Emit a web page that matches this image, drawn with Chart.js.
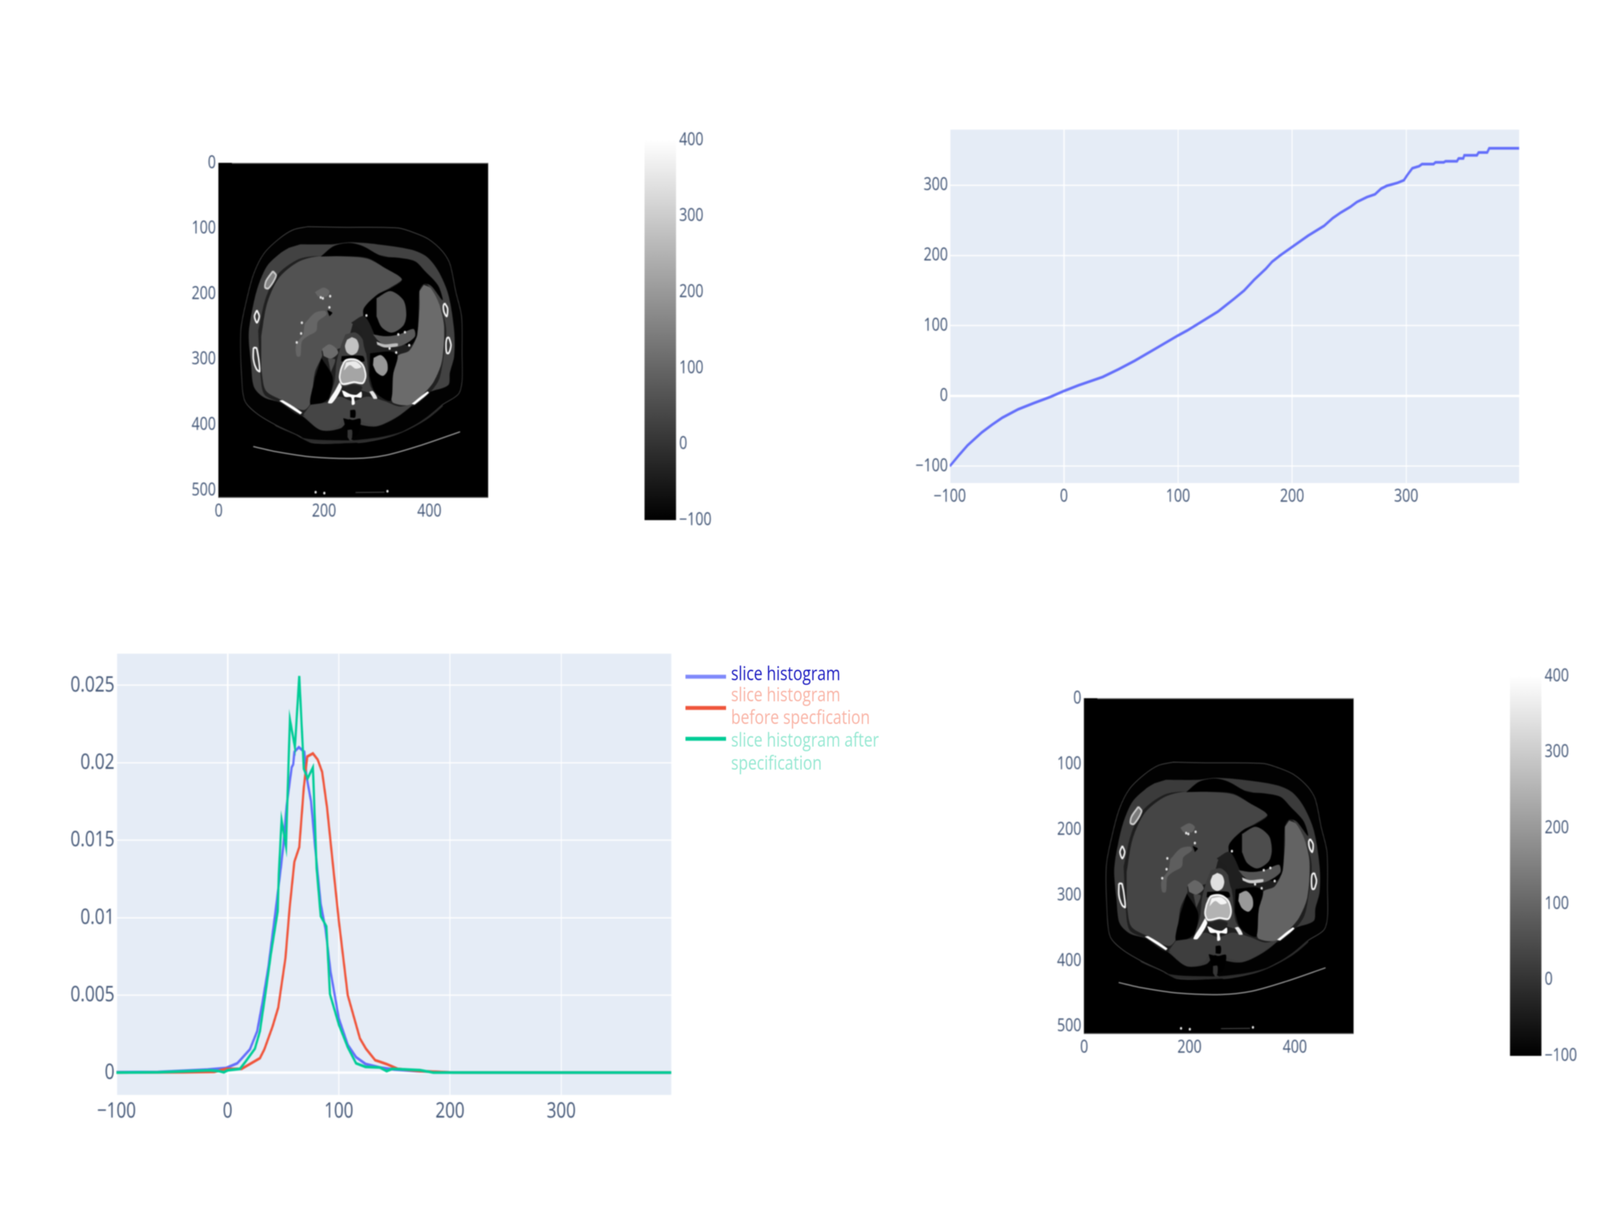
<!DOCTYPE html>
<html>
<head>
<meta charset="utf-8">
<title>Slice histogram specification</title>
<script src="https://cdn.jsdelivr.net/npm/chart.js@4"></script>
<style>
  html, body { margin: 0; background: #fff; overflow: hidden; }
  #page { position: absolute; left: 0; top: 0; width: 5084px; height: 3132px; overflow: hidden; transform-origin: 0 0; }
  canvas { position: absolute; filter: blur(1.7px); }
  .lg-line { position: absolute; height: 10px; width: 129px; left: 2178px; filter: blur(1.5px); }
  .lg-text { position: absolute; left: 2323px; font: 49.5px "Open Sans", sans-serif; line-height: 58px; white-space: nowrap; filter: blur(1px); }
</style>
</head>
<body>
<div id="page"></div>
<script>
// ---- tick labels ----------------------------------------------------------
const imageXTicks = [0, 200, 400];
const imageYTicks = [0, 100, 200, 300, 400, 500];
const barTicks = [-100, 0, 100, 200, 300, 400];
const lutXTicks = [-100, 0, 100, 200, 300];
const lutYTicks = [-100, 0, 100, 200, 300];
const histXTicks = [-100, 0, 100, 200, 300];
const histYTicks = [0, 0.005, 0.01, 0.015, 0.02, 0.025];

// ---- mapping curve (top right) ---------------------------------------------
const lutX = [-100, -91.6, -84.5, -72, -63, -54, -40, -26, -12, 0, 12.7, 34, 48, 62, 80, 100, 108, 122, 135, 142, 149, 158, 166.6, 177, 182.5, 189.6, 200, 214, 228, 235.6, 242.7, 251, 256.8, 265.6, 272.7, 278, 283, 292, 298, 300.8, 303.3, 305.4, 311.4, 313.9, 324, 325.7, 333, 334.5, 344.5, 346, 350, 351, 362, 363.5, 371, 372.8, 399];
const lutY = [-100, -83.6, -70.5, -52, -41, -31, -19, -10, -1.5, 7, 15, 27, 38, 50, 67, 86, 93, 107, 120, 129, 138, 150, 165, 181, 191, 200, 212, 228, 242, 253, 261, 269, 276, 283, 287, 295, 299, 303, 307, 314, 319.5, 324, 327, 330, 330, 332.5, 332.5, 334, 334, 338, 338, 342.5, 342.5, 346.5, 346.5, 352.5, 352.5];

// ---- histograms (bottom left) ----------------------------------------------
const sliceX = [-100, -62.6, -18, -1.5, 8.6, 12.5, 20, 26.5, 31.5, 36.6, 43, 48, 50, 53, 57.6, 59, 60, 64, 69, 71, 75, 78.6, 83.7, 88, 92.6, 100, 108, 115.5, 124, 137, 150, 170, 200, 300, 399];
const sliceY = [0.00003, 0.00004, 0.0002, 0.0003, 0.0006, 0.0009, 0.0015, 0.00266, 0.0046, 0.0068, 0.0104, 0.0133, 0.0146, 0.0172, 0.0197, 0.0199, 0.0207, 0.021, 0.0207, 0.0191, 0.0175, 0.0146, 0.0109, 0.00926, 0.0065, 0.0035, 0.0018, 0.001, 0.00056, 0.00033, 0.0002, 0.0001, 0.00001, 0, 0];
const beforeX = [-100, -40, -12, -1.5, 12.5, 29, 33, 40.5, 45.5, 52, 55.7, 60, 64.4, 68.5, 71.6, 76.7, 81, 85, 89.4, 95, 100, 108, 119, 124.4, 132.7, 137, 143, 153, 173, 203, 300, 399];
const beforeY = [0, 0.00002, 0.00005, 0.00024, 0.00024, 0.00093, 0.0015, 0.003, 0.0042, 0.0074, 0.0106, 0.0136, 0.01455, 0.0184, 0.0204, 0.0206, 0.0202, 0.0194, 0.0171, 0.0132, 0.0098, 0.005, 0.0022, 0.00154, 0.0008, 0.0007, 0.00055, 0.00024, 0.0001, 0, 0, 0];
const afterX = [-100, -62.6, -16, -8, -3.4, 0, 11, 16, 24.5, 29, 34, 39, 45, 46, 48.5, 52.5, 54, 56, 60.5, 64.4, 68.5, 72, 76.7, 80, 83.7, 88.8, 92, 100, 108, 115.5, 124, 137, 143, 148, 173, 185, 300, 399];
const afterY = [0, 0.00002, 0.00015, 0.0001, 0.00002, 0.00015, 0.00024, 0.0007, 0.00154, 0.00266, 0.0051, 0.0077, 0.0104, 0.0128, 0.0163, 0.0146, 0.0182, 0.0228, 0.021, 0.0256, 0.0196, 0.019, 0.0197, 0.0132, 0.0101, 0.00944, 0.00507, 0.0031, 0.00164, 0.0006, 0.00037, 0.00033, 0.0001, 0.00024, 0.00016, 0, 0, 0];

// ---- CT slice: outlines in image coordinates, values in HU ------------------
const body = [[169,97],[230,98],[340,99],[370,106],[398,116],[425,135],[439,154],[450,196],[461,234],[462,292],[462,333],[455,353],[425,369],[392,391],[348,411],[315,420],[265,427],[251,423],[243,427],[177,427],[150,416],[108,400],[73,383],[50,364],[44,333],[42,256],[53,209],[67,168],[86,138],[114,116],[141,102]];
const skinBand = [[105.5,399.5],[160.6,420],[243.3,423.7],[265.3,422.9],[315,417.4],[356.2,407.7],[392,389.8],[425,369],[425,372],[393.4,392.6],[348,411.9],[315,420],[265.3,427],[177,427],[149.6,417.4],[108.3,402.2]];
const bodyWall = [[155,124],[216,124],[249,121],[301,124],[364.5,132],[395,143],[417,165],[436,201],[447,256],[447,295],[439,320],[436,339],[398,351],[342.5,386],[301,402],[268,399.5],[249,391],[232,405],[194,408],[158,386],[117,366],[86,358],[67,342],[61.4,306],[57,262],[64,223],[75,187.5],[92,157],[116.5,138],[133,129.5]];
const cavityBand = [[75,256],[89,207],[111,171],[150,147.4],[185.4,142],[315,142],[392,182],[422.3,223],[432,256],[425,306],[417,333],[395,355.4],[364.5,372],[232,372],[158,386],[117,366],[86,352.6],[78,314]];
const liver = [[80.7,264.5],[91.7,215],[113.8,176],[149.6,151.5],[185.4,142.7],[232.3,142.4],[282,146],[315,159.8],[348,176.3],[326,190],[301,201],[276.3,220.4],[273.6,234],[257,242.4],[248.8,261.7],[237.8,278.2],[226.7,283.8],[196.4,286.5],[196.4,294.8],[182.7,319.6],[174.4,366.4],[160.6,377.4],[116.5,360.9],[89,347],[80.7,314]];
const spleen = [[389.3,186],[403,191.5],[419.6,217.6],[428,250.7],[423.7,303],[408.6,333.4],[392,350],[364.5,369],[331.4,366.4],[327.3,355.4],[331.4,322.3],[339.7,294.8],[361.7,286.5],[375.5,264.5],[381,223],[381,195.6]];
const topFat = [[193.7,142.7],[218.5,126.7],[248.8,122],[273.6,126.7],[309.4,141.9],[342.5,144.6],[372.8,150],[392,165.3],[416.8,187.3],[425,209.4],[403,187.3],[389.3,184.6],[381,195.6],[377,261.7],[364.5,278.3],[337,272.7],[298.4,264.5],[281.8,261.7],[276.3,239.7],[275,223],[301,201],[326,191.5],[348,177.7],[315,159.8],[281.8,144.6],[232.3,141.9]];
const fatRight = [[287.4,290.6],[327.3,287.9],[339.7,294.8],[331.4,322.3],[327.3,362.3],[315,360.9],[295.6,348.5],[286,325]];
const fatLeft = [[195,297.5],[215.7,325],[215.7,341.6],[207.5,360.9],[174.4,369.2],[182.7,327.8]];
const crus = [[240.5,261.7],[259.8,259],[273.6,270],[281.8,300.3],[284.6,327.8],[288.7,341.6],[301,358],[281.8,350],[232.3,341.6],[210.2,360.9],[219.9,333.4],[224,303],[232.3,278.2]];
const lesserSac = [[251.5,243.8],[276.3,234],[295.6,261.7],[301,278.3],[287.4,290.6],[279,289.3],[270.8,256.2]];
const stomach = [[299.7,206.6],[326,195.6],[350.7,209.4],[356.2,231.4],[350.7,248],[328.7,259],[309.4,250.7],[299.7,234.2]];
const pancreas = [[292.9,261.7],[317.7,264.5],[342.5,261.7],[370,253.5],[372.8,264.5],[356.2,275.5],[337,281],[315,278.3],[301,270]];
const splenicVein = [[299.7,272.7],[315,276.9],[339.7,275.5],[339.7,279.6],[315,281.6],[301,277.4]];
const kidney = [[294.2,297.5],[308,293.4],[319,303],[320.4,316.8],[312.1,325],[299.7,319.6],[292.9,308.6]];
const ivc = [[196.4,283.8],[210.2,276.9],[224,283.8],[226.7,290.6],[213,298.9],[199.2,294.8]];
const adrenal = [[207.5,298.9],[221.2,300.3],[213,319.6]];
const portalVein = [[163.4,245.2],[182.7,228.7],[202,225.9],[204.7,231.4],[188.2,242.4],[185.4,256.2],[168.9,264.5],[157.9,272.7],[155.1,294.8],[148.2,294.8],[146.8,278.2],[160.6,261.7]];
const hepaticVein = [[182.7,197],[199.2,190.1],[210.2,195.6],[204.7,203.9],[188.2,203.9]];
const portalFat = [[206,224.5],[215.7,228.7],[210.2,234.2]];
const backMuscle = [[174.4,369.2],[207.5,365],[229.5,356.8],[254.3,363.7],[281.8,356.8],[315,363.7],[342.5,371.9],[367.2,369.2],[342.5,384.3],[301,400.9],[268,394],[254.3,392.6],[237.8,389.8],[226.7,402.2],[193.7,407.7],[160.6,384.3]];
const backCleft = [[236.4,389.8],[252.9,392.6],[269.4,391.2],[262.6,416],[244.6,416]];
const midWedge = [[244.6,407.7],[252.9,407.7],[252.9,420],[249.3,423.7],[244.6,418.8]];
const spinous = [[249.6,377.4],[259,377.4],[259,388.5],[249.6,388.5]];
const aortaGap = [[233.6,294.8],[273.6,294.8],[276.3,303],[232.3,303]];
const aorta = [[252.9,265.8],[262.2,269.8],[266.1,279.6],[262.2,289.4],[252.9,293.4],[243.6,289.4],[239.7,279.6],[243.6,269.8]];
const vertebra = [[232.3,314],[240.5,301.7],[259.8,300.3],[273.6,308.6],[279,325],[273.6,336],[257,334.7],[235,337.5],[229.5,327.8]];
const vertebraRim = [[241.9,304.4],[259.8,303],[270.8,311.3],[259.8,314],[248.8,308.6],[237.8,316.8]];
const canal = [[240.5,341.6],[254.3,338.3],[272.2,341.6],[268,349.9],[251.5,352.6],[240.5,347]];
const laminae = [[233.6,347.1],[239.1,356.8],[251.5,358.1],[252.9,369.2],[258.4,367.8],[257.6,358.1],[270.8,358.1],[270.8,349.3],[261.2,354],[248.8,352.6],[239.1,348.5]];
const ribNeckL = [[229.5,334.7],[233.6,343],[215.7,366.4],[207.5,365.9],[221.2,347.1]];
const ribNeckR = [[286,349.3],[292.9,348.5],[301,359.5],[294.2,360.3]];
const ribA = [[72.5,224.6],[77,234],[72.5,243.8],[68,234]];
const ribB = [[429,214],[434.5,222],[433,234],[428,228],[426.5,218]];
const ribC = [[437,266],[441,278],[437,290],[433,290],[431.5,278],[433,268]];
const ribD = [[66,282],[72,283],[78,318],[72,315],[66,300]];
const ribE = [[103,165],[109,172],[95,191],[88,190],[90,180]];
const ribF = [[115,363],[122,362.5],[158,381],[155,384]];
const ribG = [[366,368],[396,349],[399,351],[372,369]];

const regionNames = [body, skinBand, bodyWall, cavityBand, liver, spleen, topFat, fatRight, fatLeft, crus, lesserSac, stomach, pancreas, splenicVein, kidney, ivc, adrenal, portalVein, hepaticVein, portalFat, backMuscle, backCleft, midWedge, spinous, aortaGap, aorta, vertebra, vertebraRim, canal, laminae, ribNeckL, ribNeckR, ribA, ribB, ribC, ribD, ribE, ribF, ribG];
// HU je Region, gleiche Reihenfolge wie regionNames
const beforeValues = [-96, -12, 30, -37, 60, 110, -100, -100, -100, 25, -35, 70, 75, 272, 195, 110, 50, 100, 100, -100, 35, -100, 8, -100, -100, 280, 224, 360, -31, 400, 390, 350, 5, 5, 5, 5, 155, 400, 400];
const afterValues = [-97, -14, 15, -42, 35, 95, -100, -100, -100, 20, -40, 50, 65, 300, 200, 100, 40, 85, 90, -100, 22, -100, 5, -100, -100, 340, 250, 380, -33, 400, 395, 360, -10, -10, -10, -10, 140, 400, 400];
const outlinedRegions = [body, ribA, ribB, ribC, ribD, ribE, vertebra];

const tableArc = [[65.6,433],[108.3,440.8],[177.2,449],[259.8,451.3],[317.7,446.3],[383.8,431.2],[458.2,410.5]];
const tableStrip = [[259.8,503.3],[314.9,502.8]];
const topEdge = [[25,0],[511,0]];
const bottomEdge = [[0,511],[511,511]];
const brightDots = [[341,261.7],[353.5,258.4],[280.5,232.8],[324.5,283.2],[337,289.3],[361.7,278.3],[193.7,205.2],[197.8,206.6],[211.6,203.3],[210.2,220.4],[157.9,243.8],[156.5,260.3],[148.2,274],[184,502.8],[200.6,504.2],[320.4,501.4]];

// ---- Legende ---------------------------------------------------------------
const legendNames = ['slice histogram', 'slice histogram', 'before specfication', 'slice histogram after', 'specification'];
const legendTextColors = ['#1a1ac0', '#f9b4a6', '#f9b4a6', '#96e8d2', '#96e8d2'];
const legendTextY = [1694, 1748, 1806, 1864, 1923];
const legendLineColors = ['#7f89fb', '#ef553b', '#00cc96'];
const legendLineY = [1728, 1808, 1887];

// ---- Helfer ----------------------------------------------------------------
const TICK = '#3f5374';
const FONT = 'Open Sans';
const fmtTick = (v) => String(v).replace('-', '\u2212');
const gray = (hu) => {
  const g = Math.round(Math.max(0, Math.min(255, (hu + 100) * 0.51)));
  return `rgb(${g},${g},${g})`;
};
const toPoints = (pairs) => pairs.map(([x, y]) => ({ x, y }));
const zip = (xs, ys) => xs.map((x, i) => ({ x, y: ys[i] }));

// Fenster kann schmaler sein als die Vorlage: Seite in der Breite einpassen
const page = document.getElementById('page');
page.style.transform = `scale(${Math.min(1, window.innerWidth / 5084)}, 1)`;

// Hintergrund der Zeichenfläche
const areaFill = {
  id: 'areaFill',
  beforeDraw(chart, _args, opts) {
    const a = chart.chartArea;
    chart.ctx.save();
    chart.ctx.fillStyle = opts.color;
    chart.ctx.fillRect(a.left, a.top, a.width, a.height);
    chart.ctx.restore();
  },
};

// Canvas so platzieren, dass die Achsenfläche exakt im Rechteck liegt
function makeChart(plot, pad, config) {
  const c = document.createElement('canvas');
  const w = plot.r - plot.l + pad.l + pad.r;
  const h = plot.b - plot.t + pad.t + pad.b;
  c.width = w; c.height = h;
  c.style.left = (plot.l - pad.l) + 'px';
  c.style.top = (plot.t - pad.t) + 'px';
  c.style.width = w + 'px';
  c.style.height = h + 'px';
  page.appendChild(c);
  const rightAxis = config.options.scales.y.position === 'right';
  config.options.responsive = false;
  config.options.animation = false;
  config.options.devicePixelRatio = 1;
  config.options.layout = { autoPadding: false, padding: { top: pad.t, right: rightAxis ? 0 : pad.r, left: 0, bottom: rightAxis ? pad.b : 0 } };
  config.plugins = [areaFill];
  return new Chart(c.getContext('2d'), config);
}

function axis(opts) {
  const { ticks, min, max, size, width, reverse, position, grid, thick, fontSize, padding, crisp } = opts;
  return {
    type: 'linear', min, max, reverse: !!reverse, position,
    border: { display: false },
    grid: {
      display: !!grid, drawTicks: false, color: '#fff',
      lineWidth: (ctx) => (ctx.tick && ctx.tick.value === 0 ? thick : crisp),
    },
    afterBuildTicks: (s) => { s.ticks = ticks.map((value) => ({ value })); },
    afterFit: (s) => { if (width !== undefined) s.width = width; if (size !== undefined) s.height = size; },
    ticks: {
      color: TICK, font: { family: FONT, size: fontSize }, padding,
      maxRotation: 0, minRotation: 0, autoSkip: false,
      callback: fmtTick,
    },
  };
}

function sliceChart(plot, values) {
  const n = regionNames.length + 5;
  const datasets = regionNames.map((pts, i) => ({
    data: toPoints(outlinedRegions.includes(pts) ? pts.concat([pts[0]]) : pts),
    showLine: true, pointRadius: 0, tension: 0.3, order: n - i,
    fill: 'shape', backgroundColor: gray(values[i]),
    borderColor: pts === body ? '#4a4a4a' : (pts === ribE ? '#ccc' : '#f7f7f7'),
    borderWidth: pts === body ? 2 : (outlinedRegions.includes(pts) ? 5 : 0),
  }));
  datasets.push({ data: toPoints(tableArc), showLine: true, pointRadius: 0, tension: 0.3, borderColor: '#9a9a9a', borderWidth: 3, order: 4 });
  datasets.push({ data: toPoints(tableStrip), showLine: true, pointRadius: 0, borderColor: '#555', borderWidth: 2, order: 3 });
  datasets.push({ data: toPoints(topEdge), showLine: true, pointRadius: 0, borderColor: '#777', borderWidth: 3, order: 2 });
  datasets.push({ data: toPoints(bottomEdge), showLine: true, pointRadius: 0, borderColor: '#666', borderWidth: 3, order: 2 });
  datasets.push({ data: toPoints(brightDots), showLine: false, pointRadius: 3.5, borderWidth: 0, backgroundColor: '#e6e6e6', order: 1 });
  return makeChart(plot, { l: 150, r: 30, t: 60, b: 80 }, {
    type: 'scatter',
    data: { datasets },
    options: {
      plugins: { legend: { display: false }, tooltip: { enabled: false }, areaFill: { color: '#000' } },
      scales: {
        x: axis({ ticks: imageXTicks, min: -0.5, max: 511.5, size: 80, position: 'bottom', fontSize: 45, padding: 8 }),
        y: axis({ ticks: imageYTicks, min: -0.5, max: 511.5, width: 150, reverse: true, position: 'left', fontSize: 45, padding: 8 }),
      },
    },
  });
}

function colorBar(plot) {
  return makeChart(plot, { l: 0, r: 190, t: 70, b: 70 }, {
    type: 'bar',
    data: {
      labels: ['HU'],
      datasets: [{
        data: [[barTicks[0], barTicks[barTicks.length - 1]]],
        barPercentage: 1, categoryPercentage: 1, borderWidth: 0,
        backgroundColor: (ctx) => {
          const a = ctx.chart.chartArea;
          if (!a) return '#000';
          const g = ctx.chart.ctx.createLinearGradient(0, a.bottom, 0, a.top);
          g.addColorStop(0, '#000');
          g.addColorStop(1, '#fff');
          return g;
        },
      }],
    },
    options: {
      plugins: { legend: { display: false }, tooltip: { enabled: false }, areaFill: { color: 'rgba(0,0,0,0)' } },
      scales: {
        x: { display: false },
        y: axis({ ticks: barTicks, min: -100, max: 400, width: 190, position: 'right', fontSize: 45, padding: 10 }),
      },
    },
  });
}

// ---- Panels ----------------------------------------------------------------
sliceChart({ l: 694, r: 1551, t: 417, b: 1275 }, beforeValues);
colorBar({ l: 2048, r: 2148, t: 359, b: 1332 });
sliceChart({ l: 3444, r: 4301, t: 1788, b: 2648 }, afterValues);
colorBar({ l: 4798, r: 4898, t: 1732, b: 2704 });

makeChart({ l: 3018, r: 4827, t: 332, b: 1237 }, { l: 150, r: 40, t: 60, b: 70 }, {
  type: 'scatter',
  data: { datasets: [{ data: zip(lutX, lutY), showLine: true, pointRadius: 0, tension: 0, borderColor: '#636efa', borderWidth: 7 }] },
  options: {
    plugins: { legend: { display: false }, tooltip: { enabled: false }, areaFill: { color: '#E5ECF6' } },
    scales: {
      x: axis({ ticks: lutXTicks, min: -100, max: 399, size: 70, position: 'bottom', grid: true, thick: 4, crisp: 3, fontSize: 45, padding: 8 }),
      y: axis({ ticks: lutYTicks, min: -124, max: 379, width: 150, position: 'left', grid: true, thick: 6, crisp: 3, fontSize: 45, padding: 6 }),
    },
  },
});

makeChart({ l: 370, r: 2133, t: 1674, b: 2804 }, { l: 220, r: 40, t: 60, b: 90 }, {
  type: 'scatter',
  data: {
    datasets: [
      { label: 'slice histogram', data: zip(sliceX, sliceY), showLine: true, pointRadius: 0, tension: 0, borderColor: '#636efa', borderWidth: 7, order: 3 },
      { label: 'slice histogram before specfication', data: zip(beforeX, beforeY), showLine: true, pointRadius: 0, tension: 0, borderColor: '#ef553b', borderWidth: 7, order: 2 },
      { label: 'slice histogram after specification', data: zip(afterX, afterY), showLine: true, pointRadius: 0, tension: 0, borderColor: '#00cc96', borderWidth: 7, order: 1 },
    ],
  },
  options: {
    plugins: { legend: { display: false }, tooltip: { enabled: false }, areaFill: { color: '#E5ECF6' } },
    scales: {
      x: axis({ ticks: histXTicks, min: -100, max: 399, size: 90, position: 'bottom', grid: true, thick: 5, crisp: 3, fontSize: 54, padding: 10 }),
      y: axis({ ticks: histYTicks, min: -0.00144, max: 0.02704, width: 220, position: 'left', grid: true, thick: 6, crisp: 3, fontSize: 55, padding: 6 }),
    },
  },
});

// HTML-Legende wie im Original
legendLineColors.forEach((color, i) => {
  const el = document.createElement('div');
  el.className = 'lg-line';
  el.style.top = legendLineY[i] + 'px';
  el.style.background = color;
  page.appendChild(el);
});
legendNames.forEach((name, i) => {
  const el = document.createElement('div');
  el.className = 'lg-text';
  el.style.top = legendTextY[i] + 'px';
  el.style.color = legendTextColors[i];
  el.textContent = name;
  page.appendChild(el);
});
</script>
</body>
</html>
